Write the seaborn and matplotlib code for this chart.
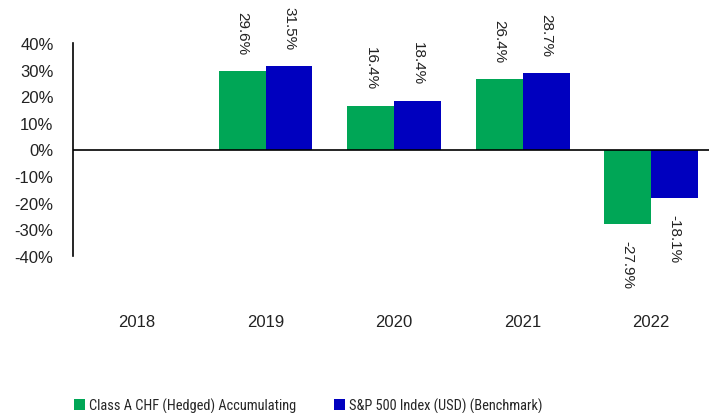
import matplotlib
matplotlib.use("Agg")
import matplotlib.pyplot as plt
import seaborn as sns
import pandas as pd
import numpy as np
from matplotlib import font_manager
from matplotlib.patches import Patch

years = ["2018", "2019", "2020", "2021", "2022"]
class_a = [np.nan, 29.6, 16.4, 26.4, -27.9]
sp500 = [np.nan, 31.5, 18.4, 28.7, -18.1]
series_names = ["Class A CHF (Hedged) Accumulating", "S&P 500 Index (USD) (Benchmark)"]
colors = ["#00A656", "#0000BF"]
ytick_vals = [-40, -30, -20, -10, 0, 10, 20, 30, 40]

df = pd.DataFrame({
    "year": years * 2,
    "value": class_a + sp500,
    "series": [series_names[0]] * len(years) + [series_names[1]] * len(years),
})

sns.set_style("white")
plt.rcParams["font.family"] = ["Liberation Sans", "DejaVu Sans"]

fig = plt.figure(figsize=(7.09, 4.14), dpi=100)
ax = fig.add_axes([73 / 709, 1 - 257 / 414, 1 - 73 / 709, (257 - 44) / 414])

sns.barplot(data=df, x="year", y="value", hue="series", order=years,
            hue_order=series_names, palette=colors, width=0.73,
            saturation=1, ax=ax, legend=False, edgecolor="none")

ax.set_xlim(-0.498, 4.45)
ax.set_ylim(-40, 40)
ax.set_yticks(ytick_vals)
ax.set_yticklabels([f"{v}%" for v in ytick_vals], fontsize=12, color="#222222")
ax.tick_params(axis="y", length=0, pad=14)
ax.tick_params(axis="x", length=0, pad=42, labelsize=12, labelcolor="#222222")
ax.set_xlabel("")
ax.set_ylabel("")
for s in ["top", "right", "bottom"]:
    ax.spines[s].set_visible(False)
ax.spines["left"].set_color("black")
ax.spines["left"].set_linewidth(1.2)
ax.axhline(0, color="black", lw=1.2, zorder=3)

for cont in ax.containers:
    for bar in cont:
        h = bar.get_height()
        if np.isnan(h):
            continue
        x = bar.get_x() + bar.get_width() / 2
        if h >= 0:
            ax.annotate(f"{h:.1f}%", (x, h), xytext=(0, 12), textcoords="offset points",
                        rotation=270, ha="center", va="bottom", fontsize=11, color="#222222")
        else:
            ax.annotate(f"{h:.1f}%", (x, h), xytext=(0, -12), textcoords="offset points",
                        rotation=270, ha="center", va="top", fontsize=11, color="#222222")

# pick a narrow font for the legend if one is installed
names = {f.name for f in font_manager.fontManager.ttflist}
leg_family = "Liberation Sans"
for cand in ["Roboto Condensed", "Liberation Sans Narrow", "Open Sans Condensed",
             "Noto Sans Condensed", "DejaVu Sans Condensed", "Roboto"]:
    if cand in names:
        leg_family = cand
        break

# size the legend font so the first label spans about 208 px, like the reference
renderer = fig.canvas.get_renderer()
probe = fig.text(0, 0, series_names[0], family=leg_family, size=13)
w = probe.get_window_extent(renderer).width
probe.remove()
leg_size = min(14.0, 13 * 208 / w)

handles = [Patch(facecolor=c, edgecolor="none") for c in colors]
fig.legend(handles, series_names, loc="center left", bbox_to_anchor=(74 / 709, 1 - 406 / 414),
           ncol=2, frameon=False, handlelength=0.75, handleheight=0.75, handletextpad=0.3,
           columnspacing=2.6, borderpad=0, borderaxespad=0,
           prop={"family": leg_family, "size": leg_size})

fig.savefig("out.png", dpi=100)
